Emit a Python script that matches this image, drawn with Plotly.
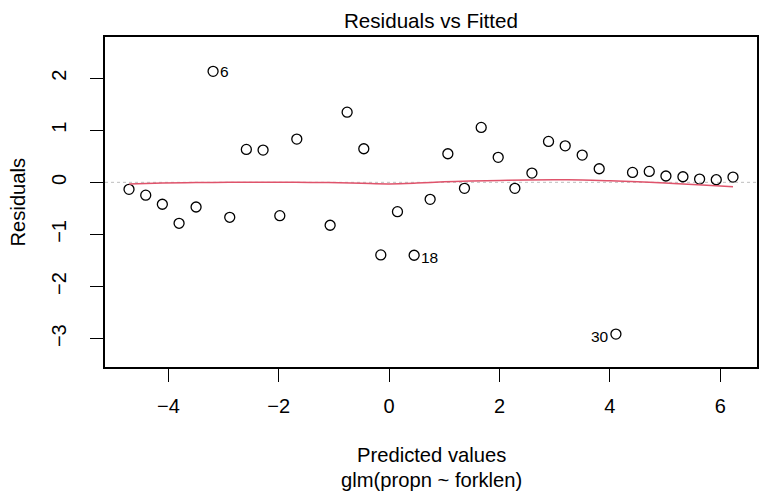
import plotly.graph_objects as go

# Data
fitted = [-4.713, -4.41, -4.109, -3.806, -3.498, -3.19, -2.888, -2.587, -2.284, -1.981,
          -1.673, -1.069, -0.761, -0.459, -0.151, 0.151, 0.453, 0.743, 1.064, 1.365,
          1.668, 1.976, 2.278, 2.587, 2.888, 3.19, 3.498, 3.806, 4.109, 4.41,
          4.713, 5.015, 5.323, 5.625, 5.927, 6.23]
resid = [-0.134, -0.246, -0.421, -0.786, -0.473, 2.13, -0.671, 0.632, 0.619, -0.64,
         0.83, -0.824, 1.347, 0.644, -1.393, -0.563, -1.399, -0.326, 0.548, -0.115,
         1.054, 0.479, -0.115, 0.178, 0.785, 0.701, 0.523, 0.261, -2.912, 0.19,
         0.21, 0.121, 0.107, 0.063, 0.05, 0.10]

smooth_x = [-4.71, -4.1, -3.5, -2.9, -2.3, -1.7, -1.1, -0.5, 0.0, 0.5, 1.0, 1.5,
            2.0, 2.5, 3.0, 3.5, 4.0, 4.5, 5.0, 5.5, 6.0, 6.23]
smooth_y = [-0.03, -0.015, -0.005, 0.0, 0.0, 0.0, -0.005, -0.02, -0.03, -0.015, 0.01, 0.025,
            0.035, 0.045, 0.05, 0.045, 0.03, 0.01, -0.015, -0.04, -0.07, -0.085]

label_ids = ["6", "18", "30"]
label_x = [-3.19, 0.453, 4.109]
label_y = [2.13, -1.399, -2.912]
label_side = ["right", "right", "left"]

x_ticks = [-4, -2, 0, 2, 4, 6]
y_ticks = [-3, -2, -1, 0, 1, 2]

FONT = "Liberation Sans, Arial, sans-serif"

# The page body has an 8px margin; margins below compensate for it.
fig = go.Figure()
fig.add_trace(go.Scatter(
    x=fitted, y=resid, mode="markers",
    marker=dict(symbol="circle-open", size=10, color="black", line=dict(width=1.3, color="black")),
    showlegend=False, hoverinfo="skip"))
fig.add_trace(go.Scatter(
    x=smooth_x, y=smooth_y, mode="lines", line=dict(color="#DF536B", width=1.5, shape="spline"),
    showlegend=False, hoverinfo="skip"))

fig.add_shape(type="line", xref="paper", yref="y", x0=0, x1=1, y0=0, y1=0,
              line=dict(color="#BEBEBE", width=1, dash="dot"), layer="below")

shifts_y = {"6": 0, "18": -2, "30": -2}
for t, lx, ly, side in zip(label_ids, label_x, label_y, label_side):
    fig.add_annotation(x=lx, y=ly, xref="x", yref="y", text=t, showarrow=False,
                       xanchor="left" if side == "right" else "right",
                       xshift=5 if side == "right" else -5, yshift=shifts_y[t],
                       font=dict(family=FONT, size=15.5, color="black"))

# Titles
fig.add_annotation(text="Residuals vs Fitted", xref="paper", yref="paper", x=0.5, y=1,
                   yshift=17, xanchor="center", yanchor="middle", showarrow=False,
                   font=dict(family=FONT, size=20.6, color="black"))
fig.add_annotation(text="Predicted values", xref="paper", yref="paper", x=0.5,
                   y=(367 - 455) / 330, xanchor="center", yanchor="middle", showarrow=False,
                   font=dict(family=FONT, size=20.2, color="black"))
fig.add_annotation(text="glm(propn ~ forklen)", xref="paper", yref="paper", x=0.5,
                   y=(367 - 480) / 330, xanchor="center", yanchor="middle", showarrow=False,
                   font=dict(family=FONT, size=20.2, color="black"))
fig.add_annotation(text="Residuals", xref="paper", yref="paper", x=(18 - 105) / 652,
                   y=(367 - 202.5) / 330, xanchor="center", yanchor="middle", showarrow=False,
                   textangle=-90, font=dict(family=FONT, size=20.2, color="black"))

fig.update_layout(
    width=771, height=501,
    margin=dict(l=97, r=22, t=29, b=142),
    paper_bgcolor="white", plot_bgcolor="white",
    font=dict(family=FONT, size=20, color="black"),
    xaxis=dict(range=[-5.148, 6.665], tickmode="array", tickvals=x_ticks,
               ticktext=["\u22124", "\u22122", "0", "2", "4", "6"],
               showgrid=False, zeroline=False, showline=True, mirror=True,
               linecolor="black", linewidth=1.5, ticks="outside", ticklen=13,
               tickcolor="black", tickwidth=1, ticklabelstandoff=7,
               tickfont=dict(family=FONT, size=20, color="black")),
    yaxis=dict(range=[-3.544, 2.789], tickmode="array", tickvals=y_ticks,
               ticktext=["\u22123", "\u22122", "\u22121", "0", "1", "2"],
               tickangle=-90,
               showgrid=False, zeroline=False, showline=True, mirror=True,
               linecolor="black", linewidth=1.5, ticks="outside", ticklen=13,
               tickcolor="black", tickwidth=1, ticklabelstandoff=16,
               tickfont=dict(family=FONT, size=20, color="black")),
)

fig.write_html("out.html")
